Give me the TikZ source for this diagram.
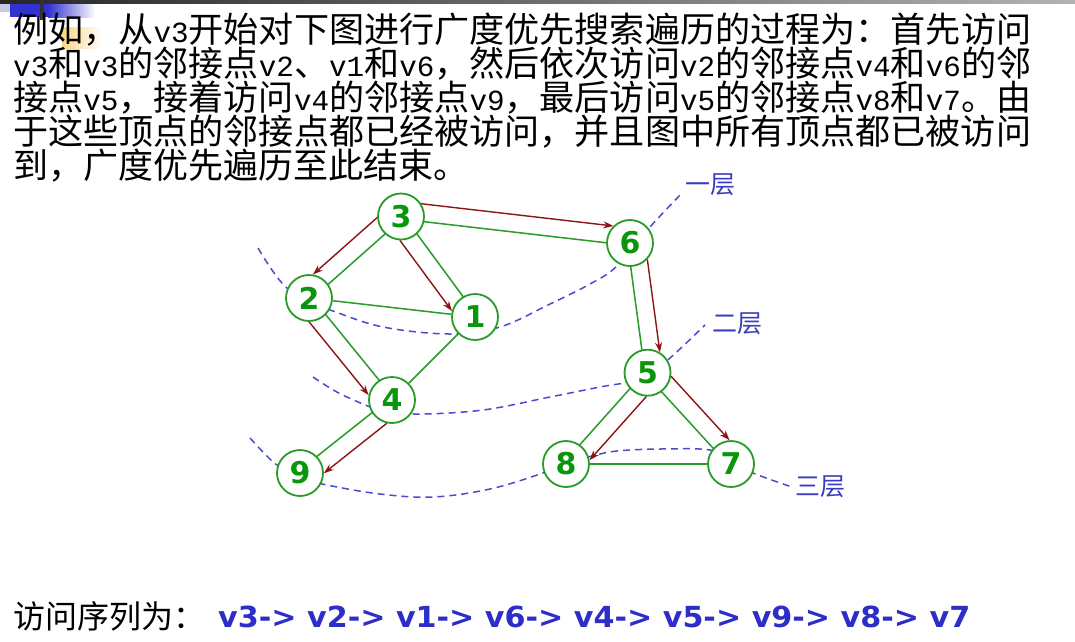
\documentclass[tikz,border=0pt]{standalone}
\usepackage{fontspec}
\usepackage{graphicx}
\usetikzlibrary{calc,arrows.meta,backgrounds}
\newfontfamily\cjk{Noto Sans CJK SC}
\newfontfamily\hwfont[Scale=0.834]{Liberation Mono}
\newfontfamily\numfont{DejaVu Sans}
\definecolor{gline}{RGB}{40,155,40}
\definecolor{gtext}{RGB}{10,150,10}
\definecolor{bfsred}{RGB}{140,20,20}
\definecolor{layerblue}{RGB}{75,75,205}
\definecolor{labblue}{RGB}{60,60,190}
\definecolor{seqblue}{RGB}{45,45,200}
\definecolor{decblue}{RGB}{50,50,210}
\definecolor{decyellow}{RGB}{250,215,130}
\definecolor{decgray}{RGB}{200,200,228}
\newcommand\vx[1]{{\hwfont v#1}}
\newcommand\bfsarrow[4]{\draw[bfs] ($($(#1.center)!18.5pt!(#2.center)$)!15pt!#3:(#2.center)$) -- ($($(#2.center)!18.5pt!(#1.center)$)!15pt!#4:(#1.center)$);}
\newcommand\gedgeoff[4]{\draw[gedge] ($(#1.center)!2.5pt!#3:(#2.center)$) -- ($(#2.center)!2.5pt!#4:(#1.center)$);}
\begin{document}
\begin{tikzpicture}[x=1pt,y=-1pt,
  vtx/.style={circle, draw=gline, line width=1.8pt, fill=white, minimum size=46pt, inner sep=0pt, text=gtext, font=\numfont\bfseries\fontsize{30}{30}\selectfont},
  gedge/.style={draw=gline, line width=1.5pt},
  bfs/.style={draw=bfsred, line width=1.4pt, -{Stealth[length=10pt,width=7pt]}},
  lvline/.style={draw=layerblue, line width=1.5pt, dash pattern=on 7pt off 5pt},
  laylab/.style={text=labblue, font=\cjk\fontsize{25}{25}\selectfont, inner sep=0pt},
  txt/.style={anchor=base west, inner sep=0pt, font=\cjk\fontsize{35}{35}\selectfont},
]
\useasboundingbox (0,0) rectangle (1075,641);

% decoration of the slide template
\shade[left color=black!85, right color=black!30] (0,0) rectangle (1075,3.5);
\fill[decgray] (0,4) rectangle (10,12);
\fill[decblue] (10,4) rectangle (48,17);
\shade[left color=decblue, right color=white] (48,4) rectangle (95,17);
\shade[left color=decyellow, right color=white] (62,27) rectangle (102,48);
\fill[black!80] (39.5,0) rectangle (43.5,20);

% text
\node[txt] (t1) at (13,42.5) {\resizebox{1018pt}{\height}{例如，从\vx3开始对下图进行广度优先搜索遍历的过程为：首先访问}};
\node[txt] (t2) at (13,76.5) {\resizebox{1018pt}{\height}{\vx3和\vx3的邻接点\vx2、\vx1和\vx6，然后依次访问\vx2的邻接点\vx4和\vx6的邻}};
\node[txt] (t3) at (13,110.5) {\resizebox{1018pt}{\height}{接点\vx5，接着访问\vx4的邻接点\vx9，最后访问\vx5的邻接点\vx8和\vx7。由}};
\node[txt] (t4) at (13,144.5) {\resizebox{1018pt}{\height}{于这些顶点的邻接点都已经被访问，并且图中所有顶点都已被访问}};
\node[txt] (t5) at (13,178.5) {到，广度优先遍历至此结束。};

% vertices
\node[vtx] (n3) at (401,216.5) {3};
\node[vtx] (n6) at (630,243) {6};
\node[vtx] (n2) at (309,298) {2};
\node[vtx] (n1) at (475,317) {1};
\node[vtx] (n4) at (392,400) {4};
\node[vtx] (n5) at (647.5,372.7) {5};
\node[vtx] (n9) at (300,473) {9};
\node[vtx] (n8) at (566,464) {8};
\node[vtx] (n7) at (731,464) {7};

% layer labels
\node[laylab] (l1) at (710,185) {一层};
\node[laylab] (l2) at (737,324) {二层};
\node[laylab] (l3) at (820,487) {三层};

\begin{scope}[on background layer]
\fill[white] (0,0) rectangle (1075,641);
% layer boundaries
\draw[lvline] plot[smooth, tension=0.6] coordinates {(258,248) (272,270) (287,288) (310,302) (333,311) (383,327) (450,334) (500,327) (550,304) (590,284) (617,266) (650,227) (682,193)};
\draw[lvline] plot[smooth, tension=0.6] coordinates {(313,377) (330,388) (347,397) (380,410) (417,414) (483,410) (550,397) (600,387) (627,382) (650,372) (670,358) (705,325)};
\draw[lvline] plot[smooth, tension=0.6] coordinates {(250,438) (263,452) (277,465) (300,478) (327,485) (380,494) (433,497) (490,489) (543,473) (566,463) (592,456) (617,451) (660,449) (710,450) (731,461) (753,473) (792,487)};
% graph edges
\gedgeoff{n3}{n2}{90}{-90}
\gedgeoff{n3}{n1}{90}{-90}
\gedgeoff{n3}{n6}{-90}{90}
\draw[gedge] (n2) -- (n1);
\gedgeoff{n2}{n4}{90}{-90}
\draw[gedge] (n1) -- (n4);
\gedgeoff{n4}{n9}{-90}{90}
\gedgeoff{n6}{n5}{-90}{90}
\gedgeoff{n5}{n8}{-90}{90}
\gedgeoff{n5}{n7}{-90}{90}
\draw[gedge] (n8) -- (n7);
% BFS arrows
\bfsarrow{n3}{n2}{-90}{90}
\bfsarrow{n3}{n1}{-90}{90}
\bfsarrow{n3}{n6}{90}{-90}
\bfsarrow{n2}{n4}{-90}{90}
\bfsarrow{n4}{n9}{90}{-90}
\bfsarrow{n6}{n5}{90}{-90}
\bfsarrow{n5}{n8}{90}{-90}
\bfsarrow{n5}{n7}{90}{-90}
\end{scope}

% visiting sequence
\node[anchor=base west, inner sep=0pt, font=\cjk\fontsize{32}{32}\selectfont] (q) at (13,628) {访问序列为：};
\node[anchor=base west, inner sep=0pt, text=seqblue, font=\numfont\bfseries\fontsize{29}{29}\selectfont] (seq) at (218,627) {\resizebox{752pt}{\height}{v3-> v2-> v1-> v6-> v4-> v5-> v9-> v8-> v7}};
\end{tikzpicture}
\end{document}
